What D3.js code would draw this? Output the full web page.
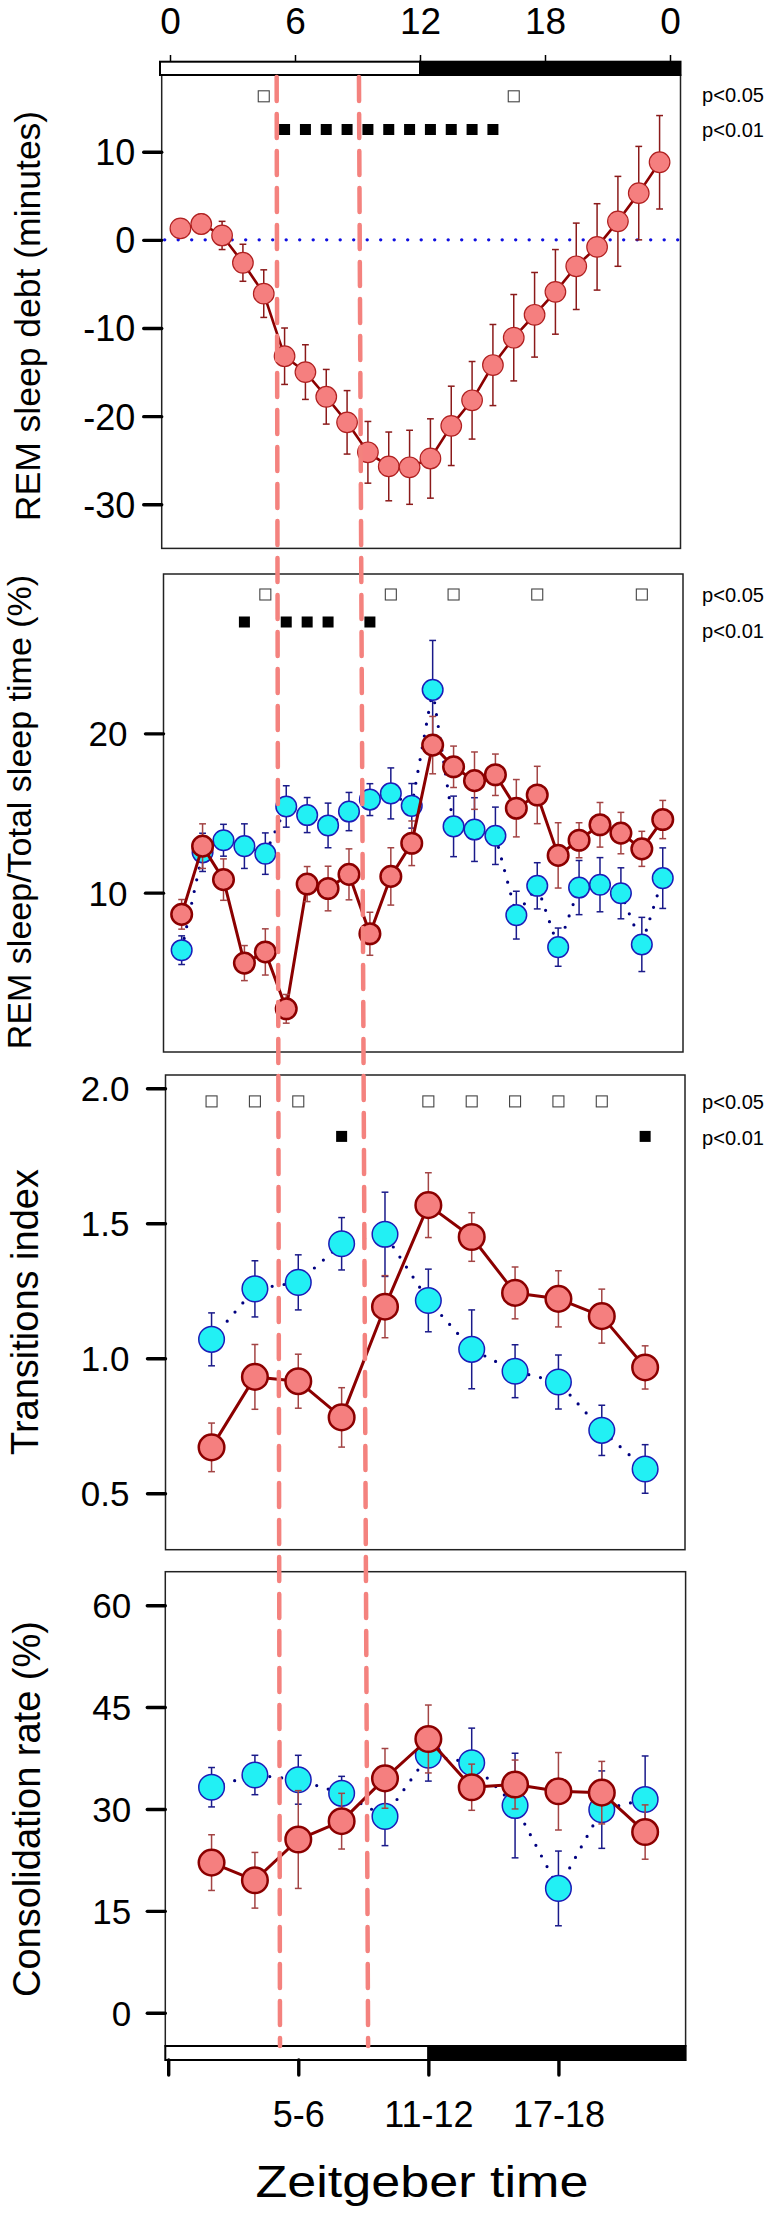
<!DOCTYPE html>
<html><head><meta charset="utf-8">
<script src="https://cdn.jsdelivr.net/npm/d3@7"></script>
<style>
body{margin:0;background:#fff}
svg{display:block}
text{font-family:"Liberation Sans",Arial,Helvetica,sans-serif}
</style>
</head><body>
<svg id="chart" width="774" height="2216"></svg>
<script>
// ---------- categories / ticks ----------
const hourBins = [0.5,1.5,2.5,3.5,4.5,5.5,6.5,7.5,8.5,9.5,10.5,11.5,12.5,13.5,14.5,15.5,16.5,17.5,18.5,19.5,20.5,21.5,22.5,23.5];
const twoHourBins = [2,4,6,8,10,12,14,16,18,20,22];
const topTickHours = [0,6,12,18,24];
const topTickLabels = ["0","6","12","18","0"];
const bottomTickHours = [0,6,12,18];
const bottomTickLabels = ["","5-6","11-12","17-18"];
const lightEndHour = 12;
const dashedLineHours = [[5.12,5.28],[9.07,9.51]];

// ---------- panel 1: REM sleep debt ----------
const debtMean = [1.3,1.8,0.5,-2.6,-6.1,-13.2,-15.0,-17.8,-20.7,-24.1,-25.7,-25.8,-24.8,-21.1,-18.2,-14.2,-11.1,-8.5,-5.9,-3.0,-0.8,2.1,5.3,8.8];
const debtErr  = [1.0,1.1,1.6,2.1,2.7,3.2,3.1,3.1,3.6,3.5,3.9,4.2,4.5,4.5,4.4,4.6,4.9,4.8,4.8,4.9,4.9,5.1,5.3,5.3];
const debtTicks = [10,0,-10,-20,-30];
const debtSig05 = [4.5,16.5];
const debtSig01 = [5.5,6.5,7.5,8.5,9.5,10.5,11.5,12.5,13.5,14.5,15.5];

// ---------- panel 2: REM sleep / total sleep ----------
const remRed     = [8.64,12.92,10.82,5.58,6.28,2.71,10.54,10.26,11.15,7.42,11.02,13.10,19.26,17.90,17.03,17.40,15.30,16.13,12.34,13.29,14.26,13.74,12.75,14.59];
const remRedErr  = [0.93,1.4,1.3,1.1,1.45,0.9,1.1,1.4,1.6,1.35,1.8,1.4,1.8,1.3,1.8,1.3,1.8,1.8,2.05,1.1,1.4,1.3,1.1,1.2];
const remCyan    = [6.39,12.53,13.29,12.92,12.45,15.41,14.87,14.22,15.09,15.84,16.23,15.45,22.73,14.16,13.96,13.57,8.59,10.43,6.58,10.32,10.50,9.96,6.75,10.91];
const remCyanErr = [0.9,1.2,1.0,1.4,1.3,1.3,1.1,1.4,1.2,1.0,1.6,1.4,3.1,1.9,2.0,1.8,1.5,1.45,1.2,1.7,1.7,1.6,1.7,1.9];
const remTicks = [20,10];
const remSig05 = [4.5,10.5,13.5,17.5,22.5];
const remSig01 = [3.5,5.5,6.5,7.5,9.5];

// ---------- panel 3: transitions index ----------
const transRed     = [0.670,0.931,0.915,0.781,1.191,1.567,1.449,1.242,1.220,1.156,0.966];
const transRedErr  = [0.09,0.12,0.10,0.11,0.115,0.12,0.09,0.096,0.104,0.10,0.08];
const transCyan    = [1.070,1.257,1.281,1.424,1.459,1.214,1.033,0.952,0.912,0.733,0.590];
const transCyanErr = [0.098,0.104,0.102,0.097,0.156,0.116,0.146,0.098,0.10,0.093,0.09];
const transTicks = [2.0,1.5,1.0,0.5];
const transSig05 = [2,4,6,12,14,16,18,20];
const transSig01 = [8,22];

// ---------- panel 4: consolidation rate ----------
const consRed     = [22.1,19.5,25.5,28.2,34.5,40.3,33.2,33.6,32.6,32.4,26.6];
const consRedErr  = [4.1,4.1,7.2,4.1,4.4,5.0,3.4,3.6,5.7,4.6,4.0];
const consCyan    = [33.2,35.0,34.3,32.3,28.9,37.9,36.8,30.5,18.3,29.9,31.4];
const consCyanErr = [2.9,2.9,3.6,2.5,4.3,3.8,5.1,7.7,5.5,5.7,6.4];
const consTicks = [60,45,30,15,0];

const sigLabels = ["p<0.05","p<0.01"];

// ---------- styles ----------
const styles = {
  red1: {fill:"#F57F7F", stroke:"#B02020", sw:1.2, line:"#8B0000", lw:2.6, dash:null, err:"#8B1A1A"},
  red:  {fill:"#F57F7F", stroke:"#8B0000", sw:2.5, line:"#8B0000", lw:3, dash:null, err:"#A34444"},
  cyan: {fill:"#22F0F4", stroke:"#1C1CB8", sw:1.5, line:"#000080", lw:3.2, dash:"0,12", err:"#1A1A8A"}
};

// ---------- layout ----------
const panels = [
  {frame:{l:161.7,r:680.5,t:75,b:548.4}, xRange:[170,670], yDomain:[-35,18.7], ticks:debtTicks, fmt:d=>String(d),
   tickPad:8.5, tickFont:36, title:"REM sleep debt (minutes)", titleSize:35.5, titleX:40, titleY:316, r:10.3,
   series:[{x:hourBins,y:debtMean,e:debtErr,s:"red1"}], zero:true,
   sig05:debtSig05, sig01:debtSig01, sigY:[96.3,129.5], pY:[95,129.3]},
  {frame:{l:163.5,r:683,t:574,b:1052}, xRange:[171.2,673.2], yDomain:[0,30], ticks:remTicks, fmt:d=>String(d),
   tickPad:18, tickFont:35, title:"REM sleep/Total sleep time (%)", titleSize:34, titleX:31, titleY:812, r:10.3,
   series:[{x:hourBins,y:remCyan,e:remCyanErr,s:"cyan"},{x:hourBins,y:remRed,e:remRedErr,s:"red"}],
   sig05:remSig05, sig01:remSig01, sigY:[594.5,622], pY:[594.5,631]},
  {frame:{l:165.5,r:685,t:1075,b:1549.7}, xRange:[168.2,688.5], yDomain:[0.291,2.049], ticks:transTicks, fmt:d3.format(".1f"),
   tickPad:18, tickFont:35, title:"Transitions index", titleSize:38, titleX:38, titleY:1312, r:12.8,
   series:[{x:twoHourBins,y:transCyan,e:transCyanErr,s:"cyan"},{x:twoHourBins,y:transRed,e:transRedErr,s:"red"}],
   sig05:transSig05, sig01:transSig01, sigY:[1101.4,1136.4], pY:[1101.4,1137.4]},
  {frame:{l:165.3,r:685.6,t:1571.7,b:2046}, xRange:[168.2,688.5], yDomain:[-4.9,64.93], ticks:consTicks, fmt:d=>String(d),
   tickPad:16, tickFont:35, title:"Consolidation rate (%)", titleSize:38, titleX:40, titleY:1809, r:12.8,
   series:[{x:twoHourBins,y:consCyan,e:consCyanErr,s:"cyan"},{x:twoHourBins,y:consRed,e:consRedErr,s:"red"}],
   sig05:null, sig01:null}
];

const svg = d3.select("#chart");
svg.append("rect").attr("width",774).attr("height",2216).attr("fill","#fff");

const scales = [];

panels.forEach((p, pi) => {
  const x = d3.scaleLinear().domain([0,24]).range(p.xRange);
  const y = d3.scaleLinear().domain(p.yDomain).range([p.frame.b, p.frame.t]);
  scales.push({x,y});
  const g = svg.append("g");

  // frame
  g.append("rect").attr("x",p.frame.l).attr("y",p.frame.t)
    .attr("width",p.frame.r-p.frame.l).attr("height",p.frame.b-p.frame.t)
    .attr("fill","none").attr("stroke","#222").attr("stroke-width",1.5);

  // y axis
  const ag = g.append("g").attr("transform",`translate(${p.frame.l},0)`)
    .call(d3.axisLeft(y).tickValues(p.ticks).tickSize(18).tickPadding(p.tickPad).tickFormat(p.fmt));
  ag.select(".domain").remove();
  ag.selectAll(".tick line").attr("stroke","#000").attr("stroke-width",3.4).attr("stroke-linecap","round");
  ag.selectAll(".tick text").attr("font-size",p.tickFont).attr("fill","#000")
    .attr("font-family",'"Liberation Sans",Arial,sans-serif').attr("dy","0.36em");

  // y title
  g.append("text").attr("transform",`translate(${p.titleX},${p.titleY}) rotate(-90)`)
    .attr("text-anchor","middle").attr("font-size",p.titleSize).attr("fill","#000").text(p.title);

  // zero line
  if (p.zero) {
    g.append("line").attr("x1",p.frame.l+3).attr("x2",p.frame.r-2).attr("y1",y(0)).attr("y2",y(0))
      .attr("stroke","#1010E0").attr("stroke-width",3.4).attr("stroke-linecap","round")
      .attr("stroke-dasharray","0,13.5");
  }

  // significance markers
  if (p.sig05) {
    g.selectAll(null).data(p.sig05).enter().append("rect")
      .attr("x",d=>x(d)-5.5).attr("y",p.sigY[0]-5.5).attr("width",11).attr("height",11)
      .attr("fill","#fff").attr("stroke","#444").attr("stroke-width",1.1);
    g.selectAll(null).data(p.sig01).enter().append("rect")
      .attr("x",d=>x(d)-5.5).attr("y",p.sigY[1]-5.5).attr("width",11).attr("height",11)
      .attr("fill","#000");
    sigLabels.forEach((t,i)=>{
      g.append("text").attr("x",702).attr("y",p.pY[i]).attr("dy","0.36em")
        .attr("font-size",20).attr("fill","#000").attr("textLength",62).attr("lengthAdjust","spacingAndGlyphs").text(t);
    });
  }

  // series
  p.series.forEach(s => {
    const st = styles[s.s];
    const pts = s.x.map((xv,i)=>({x:xv, y:s.y[i], e:s.e[i]}));
    const line = d3.line().x(d=>x(d.x)).y(d=>y(d.y));
    const path = g.append("path").datum(pts).attr("d",line).attr("fill","none")
      .attr("stroke",st.line).attr("stroke-width",st.lw).attr("stroke-linejoin","round");
    if (st.dash) path.attr("stroke-dasharray",st.dash).attr("stroke-linecap","round");
    const eg = g.append("g").attr("stroke",st.err).attr("stroke-width",1.5);
    pts.forEach(d=>{
      const cx = x(d.x), y1 = y(d.y-d.e), y2 = y(d.y+d.e);
      eg.append("line").attr("x1",cx).attr("x2",cx).attr("y1",y1).attr("y2",y2);
      eg.append("line").attr("x1",cx-3.4).attr("x2",cx+3.4).attr("y1",y1).attr("y2",y1);
      eg.append("line").attr("x1",cx-3.4).attr("x2",cx+3.4).attr("y1",y2).attr("y2",y2);
    });
    g.selectAll(null).data(pts).enter().append("circle")
      .attr("cx",d=>x(d.x)).attr("cy",d=>y(d.y)).attr("r",p.r)
      .attr("fill",st.fill).attr("stroke",st.stroke).attr("stroke-width",st.sw);
  });

  // light/dark bar + top/bottom axes
  if (pi === 0) {
    const barT = 61.7, barB = p.frame.t;
    g.append("rect").attr("x",160).attr("y",barT).attr("width",x(lightEndHour)-160).attr("height",barB-barT)
      .attr("fill","#fff").attr("stroke","#000").attr("stroke-width",2);
    g.append("rect").attr("x",x(lightEndHour)).attr("y",barT).attr("width",p.frame.r-x(lightEndHour)).attr("height",barB-barT)
      .attr("fill","#000").attr("stroke","#000").attr("stroke-width",2);
    const tg = g.append("g").attr("transform",`translate(0,${barT})`)
      .call(d3.axisTop(x).tickValues(topTickHours).tickSize(6.7).tickPadding(21).tickFormat((d,i)=>topTickLabels[i]));
    tg.select(".domain").remove();
    tg.selectAll(".tick line").attr("stroke","#000").attr("stroke-width",1.5);
    tg.selectAll(".tick text").attr("font-size",37).attr("fill","#000").attr("font-family",'"Liberation Sans",Arial,sans-serif');
  }
  if (pi === 3) {
    const barT = p.frame.b, barB = 2060;
    g.append("rect").attr("x",p.frame.l).attr("y",barT).attr("width",x(lightEndHour)-p.frame.l).attr("height",barB-barT)
      .attr("fill","#fff").attr("stroke","#000").attr("stroke-width",2);
    g.append("rect").attr("x",x(lightEndHour)).attr("y",barT).attr("width",p.frame.r-x(lightEndHour)).attr("height",barB-barT)
      .attr("fill","#000").attr("stroke","#000").attr("stroke-width",2);
    const bg = g.append("g").attr("transform",`translate(0,${barB})`)
      .call(d3.axisBottom(x).tickValues(bottomTickHours).tickSize(15).tickPadding(26).tickFormat((d,i)=>bottomTickLabels[i]));
    bg.select(".domain").remove();
    bg.selectAll(".tick line").attr("stroke","#000").attr("stroke-width",3.4).attr("stroke-linecap","round");
    bg.selectAll(".tick text").attr("font-size",36).attr("fill","#000").attr("font-family",'"Liberation Sans",Arial,sans-serif');
    g.append("text").attr("x",422).attr("y",2196.7).attr("text-anchor","middle").attr("font-size",44)
      .attr("fill","#000").attr("textLength",333).attr("lengthAdjust","spacingAndGlyphs").text("Zeitgeber time");
  }
});

// dashed vertical reference lines (hours on panel-1 scale)
const xTop = scales[0].x;
svg.append("g").selectAll("line").data(dashedLineHours).enter().append("line")
  .attr("x1",d=>xTop(d[0])).attr("x2",d=>xTop(d[1]))
  .attr("y1",panels[0].frame.t+2).attr("y2",panels[3].frame.b)
  .attr("stroke","#F4827E").attr("stroke-width",4.5).attr("stroke-linecap","round")
  .attr("stroke-dasharray","24,13");
</script>
</body></html>
